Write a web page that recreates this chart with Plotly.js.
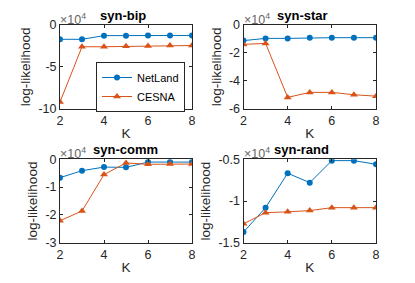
<!DOCTYPE html>
<html><head><meta charset="utf-8">
<script src="https://cdn.plot.ly/plotly-3.0.1.min.js"></script>
<style>html,body{margin:0;padding:0;background:#fff}#chart{width:415px;height:283px}</style>
</head><body><div id="chart"></div>
<script>
const K = [2,3,4,5,6,7,8];
const panelTitles = ["syn-bip","syn-star","syn-comm","syn-rand"];
// values in units of 10^4
const netlandBip  = [-1.71,-1.71,-1.27,-1.27,-1.25,-1.25,-1.25];
const cesnaBip    = [-9.2,-2.6,-2.6,-2.55,-2.5,-2.45,-2.45];
const netlandStar = [-1.12,-0.96,-0.96,-0.91,-0.91,-0.91,-0.91];
const cesnaStar   = [-1.39,-1.32,-5.19,-4.83,-4.83,-5.0,-5.1];
const netlandComm = [-0.66,-0.41,-0.28,-0.29,-0.10,-0.10,-0.10];
const cesnaComm   = [-2.21,-1.86,-0.55,-0.13,-0.18,-0.17,-0.17];
const netlandRand = [-1.373,-1.08,-0.667,-0.78,-0.516,-0.516,-0.56];
const cesnaRand   = [-1.274,-1.14,-1.13,-1.115,-1.08,-1.08,-1.08];
const yTicks = [[-10,-5,0],[-6,-4,-2,0],[-3,-2,-1,0],[-1.5,-1,-0.5]];
const yTickText = [["-10","-5","0"],["-6","-4","-2","0"],["-3","-2","-1","0"],["-1.5","-1","-0.5"]];
const yRanges = [[-10,0],[-6,0],[-3,0],[-1.5,-0.5]];
const xTicks = [2,4,6,8];

const blue = "#0072BD", orange = "#D95319", axc = "#262626";
const netland = [netlandBip, netlandStar, netlandComm, netlandRand];
const cesna = [cesnaBip, cesnaStar, cesnaComm, cesnaRand];

const W = 415, H = 283;
const xd = [[60/W,192/W],[243.5/W,376/W]];
const yd = [[1-108.7/H,1-25/H],[1-242.7/H,1-159.3/H]];
const titleX = [123/W, 302/W, 125/W, 301/W];

const traces = [];
const layout = {
  width: W, height: H, margin:{l:0,r:0,t:0,b:0},
  paper_bgcolor:"#fff", plot_bgcolor:"#fff",
  font:{family:"Liberation Sans, Arial, sans-serif", size:12, color:axc},
  showlegend:true,
  legend:{x:96/W, y:1-87/H, xanchor:"left", yanchor:"middle", bgcolor:"#fff",
          bordercolor:axc, borderwidth:1, font:{size:11,color:"#000"},
          tracegroupgap:0, itemwidth:30},
  annotations:[]
};
for (let i=0;i<4;i++){
  const col = i%2, row = Math.floor(i/2);
  const xa = i===0 ? "x" : "x"+(i+1), ya = i===0 ? "y" : "y"+(i+1);
  traces.push({x:K, y:netland[i], xaxis:xa, yaxis:ya, type:"scatter", mode:"lines+markers",
    name:"NetLand", showlegend:i===0, line:{color:blue,width:1}, marker:{symbol:"circle",size:6,color:blue}});
  traces.push({x:K, y:cesna[i], xaxis:xa, yaxis:ya, type:"scatter", mode:"lines+markers",
    name:"CESNA", showlegend:i===0, line:{color:orange,width:1}, marker:{symbol:"triangle-up",size:7,color:orange}});
  const axKeyX = i===0 ? "xaxis" : "xaxis"+(i+1);
  const axKeyY = i===0 ? "yaxis" : "yaxis"+(i+1);
  layout[axKeyX] = {domain:xd[col], anchor:ya, range:[2,8], tickvals:xTicks, ticks:"inside", ticklen:3,
    mirror:"ticks", showline:true, linecolor:axc, linewidth:1, tickcolor:axc, showgrid:false, zeroline:false,
    tickfont:{size:12.5,color:axc}, title:{text:"K", font:{size:13.5,color:axc}, standoff:1}};
  layout[axKeyY] = {domain:yd[row], anchor:xa, range:yRanges[i], tickvals:yTicks[i], ticktext:yTickText[i],
    ticks:"inside", ticklen:3, mirror:"ticks", showline:true, linecolor:axc, linewidth:1, tickcolor:axc,
    showgrid:false, zeroline:false, tickfont:{size:12.5,color:axc},
    title:{text:"log-likelihood", font:{size:13.5,color:axc}, standoff:4}};
  layout.annotations.push({text:"<b>"+panelTitles[i]+"</b>", xref:"paper", yref:"paper", x:titleX[i],
    y:yd[row][1], yanchor:"bottom", xanchor:"center", showarrow:false, font:{size:13,color:"#000"}, yshift:0});
  layout.annotations.push({text:"×10<sup>4</sup>", xref:"paper", yref:"paper", x:xd[col][0],
    y:yd[row][1], yanchor:"bottom", xanchor:"left", showarrow:false, font:{size:12.5,color:"#666"}, yshift:-4, xshift:-2});
}
Plotly.newPlot("chart", traces, layout, {displayModeBar:false, staticPlot:true});
</script></body></html>
